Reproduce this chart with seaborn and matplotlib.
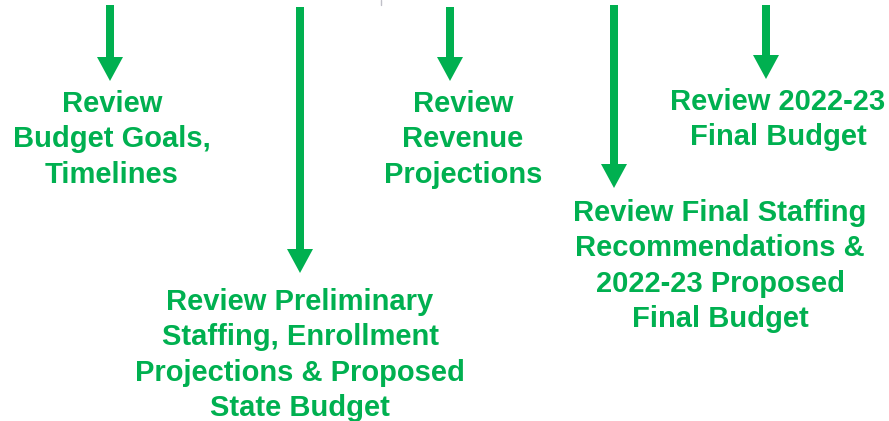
import matplotlib
matplotlib.use("Agg")
import matplotlib.pyplot as plt
import seaborn as sns

sns.set_theme(style="white")
plt.rcParams['font.family'] = ['Liberation Sans', 'DejaVu Sans']

GREEN = '#00B050'

# arrows: x position, top, bottom (pixel coordinates of the reference)
arrow_x = [110, 300, 450, 614, 766]
arrow_top = [5, 7, 7, 5, 5]
arrow_bottom = [81, 273, 81, 188, 79]

# text blocks
labels = [
    "Review\nBudget Goals,\nTimelines",
    "Review Preliminary\nStaffing, Enrollment\nProjections & Proposed\nState Budget",
    "Review\nRevenue\nProjections",
    "Review Final Staffing\nRecommendations &\n2022-23 Proposed\nFinal Budget",
    "Review 2022-23\nFinal Budget",
]
label_x = [112, 300, 463, 720, 778]
label_top = [90, 288, 90, 199, 88]

fig = plt.figure(figsize=(8.89, 4.21), dpi=100)
ax = fig.add_axes([0, 0, 1, 1])
ax.set_xlim(0, 889)
ax.set_ylim(421, 0)
ax.axis('off')

for x, y0, y1 in zip(arrow_x, arrow_top, arrow_bottom):
    ax.arrow(x, y0, 0, y1 - y0, width=8, head_width=26, head_length=24,
             length_includes_head=True, color=GREEN, linewidth=0)

for text, x, y in zip(labels, label_x, label_top):
    ax.text(x, y, text, ha='center', va='top', color=GREEN, fontsize=21,
            fontweight='bold', linespacing=1.34)

# small grey mark at the top edge
ax.plot([381, 381], [0, 5], color='#c0c0c8', linewidth=1)

fig.savefig('out.png', dpi=100)
